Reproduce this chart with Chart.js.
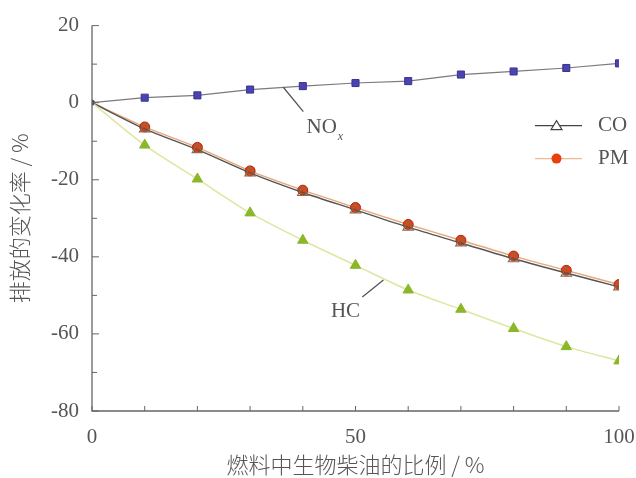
<!DOCTYPE html>
<html>
<head>
<meta charset="utf-8">
<script src="https://cdn.jsdelivr.net/npm/chart.js@4.4.1/dist/chart.umd.min.js"></script>
<style>
  html, body { margin: 0; padding: 0; background: #fff; }
  #wrap { width: 636px; height: 478px; }
</style>
</head>
<body>
<div id="wrap"><canvas id="chart" width="636" height="478"></canvas></div>
<script>
// share of bio-diesel in fuel, %
const blendRatio = [0, 10, 20, 30, 40, 50, 60, 70, 80, 90, 100];

// change of emissions, %
const noxChange = [0, 1.3, 1.9, 3.4, 4.3, 5.1, 5.6, 7.3, 8.1, 9.0, 10.2];
const coChange = [0, -6.8, -12.2, -18.2, -23.3, -27.8, -32.3, -36.4, -40.5, -44.2, -47.8];
const pmChange = [0, -6.3, -11.6, -17.7, -22.7, -27.2, -31.6, -35.7, -39.8, -43.5, -47.2];
const hcChange = [0, -11.0, -19.8, -28.6, -35.7, -42.2, -48.6, -53.6, -58.6, -63.3, -67.0];

const xTickLabels = [0, 50, 100];
const yTickLabels = [20, 0, -20, -40, -60, -80];

const serif = '"Liberation Serif", "DejaVu Serif", serif';
const cjk = '"Noto Sans CJK SC", sans-serif';
const textColor = '#555';

function toPoints(values) {
    return blendRatio.map((x, i) => ({ x: x, y: values[i] }));
}

function firstSmall(r) {
    return blendRatio.map((x, i) => i === 0 ? 2.5 : r);
}

// inward ticks, curve callouts and the small legend
const decorPlugin = {
    id: 'decor',
    afterDraw(chart) {
        const ctx = chart.ctx;
        const xs = chart.scales.x;
        const ys = chart.scales.y;
        const area = chart.chartArea;
        ctx.save();

        // axis lines
        ctx.strokeStyle = '#666';
        ctx.lineWidth = 1.3;
        ctx.beginPath();
        ctx.moveTo(area.left, area.top);
        ctx.lineTo(area.left, area.bottom);
        ctx.lineTo(area.right, area.bottom);
        ctx.stroke();

        // tick marks pointing into the plot
        ctx.lineWidth = 1;
        xs.ticks.forEach(t => {
            const px = xs.getPixelForValue(t.value);
            ctx.beginPath();
            ctx.moveTo(px, area.bottom);
            ctx.lineTo(px, area.bottom - 5);
            ctx.stroke();
        });
        ys.ticks.forEach(t => {
            const py = ys.getPixelForValue(t.value);
            const len = t.value % 20 === 0 ? 7 : 5;
            ctx.beginPath();
            ctx.moveTo(area.left, py);
            ctx.lineTo(area.left + len, py);
            ctx.stroke();
        });

        // callouts
        ctx.strokeStyle = '#555';
        ctx.lineWidth = 1.3;
        ctx.beginPath();
        ctx.moveTo(xs.getPixelForValue(36.3), ys.getPixelForValue(4.0));
        ctx.lineTo(xs.getPixelForValue(40.1), ys.getPixelForValue(-2.3));
        ctx.moveTo(xs.getPixelForValue(55.3), ys.getPixelForValue(-46.0));
        ctx.lineTo(xs.getPixelForValue(51.3), ys.getPixelForValue(-50.4));
        ctx.stroke();

        ctx.fillStyle = textColor;
        ctx.font = '21px ' + serif;
        ctx.textBaseline = 'middle';
        ctx.textAlign = 'left';
        const noX = xs.getPixelForValue(40.7);
        const noY = ys.getPixelForValue(-6.4);
        ctx.fillText('NO', noX, noY);
        const noW = ctx.measureText('NO').width;
        ctx.font = 'italic 12px ' + serif;
        ctx.fillText('x', noX + noW + 1, noY + 9);

        ctx.font = '21px ' + serif;
        ctx.textAlign = 'center';
        ctx.fillText('HC', xs.getPixelForValue(48.1), ys.getPixelForValue(-54.3));

        // legend
        const lx0 = area.right - 84;
        const lx1 = area.right - 37;
        const lmid = (lx0 + lx1) / 2 - 2;
        const rowCO = area.top + 100;
        const rowPM = area.top + 133;

        ctx.lineWidth = 1.2;
        ctx.strokeStyle = '#444';
        ctx.beginPath();
        ctx.moveTo(lx0, rowCO);
        ctx.lineTo(lx1, rowCO);
        ctx.stroke();
        ctx.fillStyle = '#fff';
        ctx.beginPath();
        ctx.moveTo(lmid, rowCO - 5);
        ctx.lineTo(lmid + 5.5, rowCO + 4);
        ctx.lineTo(lmid - 5.5, rowCO + 4);
        ctx.closePath();
        ctx.fill();
        ctx.stroke();

        ctx.strokeStyle = '#f0b890';
        ctx.beginPath();
        ctx.moveTo(lx0, rowPM);
        ctx.lineTo(lx1, rowPM);
        ctx.stroke();
        ctx.fillStyle = '#e8400c';
        ctx.beginPath();
        ctx.arc(lmid, rowPM, 5, 0, Math.PI * 2);
        ctx.fill();

        ctx.fillStyle = textColor;
        ctx.font = '21px ' + serif;
        ctx.textAlign = 'left';
        ctx.fillText('CO', area.right - 21, rowCO);
        ctx.fillText('PM', area.right - 21, rowPM);

        ctx.restore();
    }
};

new Chart(document.getElementById('chart'), {
    type: 'line',
    data: {
        datasets: [
            {
                label: 'NOx',
                data: toPoints(noxChange),
                borderColor: '#7a7a80',
                borderWidth: 1.2,
                pointStyle: 'rect',
                pointRadius: firstSmall(5),
                pointBackgroundColor: '#4a44b0',
                pointBorderColor: '#3a3490',
                pointBorderWidth: 1
            },
            {
                label: 'HC',
                data: toPoints(hcChange),
                borderColor: '#dfe6a0',
                borderWidth: 1.5,
                pointStyle: 'triangle',
                pointRadius: firstSmall(6),
                pointBackgroundColor: '#8ab82a',
                pointBorderColor: '#8ab82a',
                pointBorderWidth: 1,
                tension: 0.3
            },
            {
                label: 'CO',
                data: toPoints(coChange),
                borderColor: '#555',
                borderWidth: 1.4,
                pointStyle: 'triangle',
                pointRadius: firstSmall(6),
                pointBackgroundColor: 'rgba(255,255,255,0)',
                pointBorderColor: '#8a6a50',
                pointBorderWidth: 1.2,
                tension: 0.3
            },
            {
                label: 'PM',
                data: toPoints(pmChange),
                borderColor: '#e9a77a',
                borderWidth: 1.4,
                pointStyle: 'circle',
                pointRadius: firstSmall(5),
                pointBackgroundColor: '#e8400c',
                pointBorderColor: '#a82a10',
                pointBorderWidth: 1,
                tension: 0.3
            }
        ]
    },
    options: {
        responsive: false,
        animation: false,
        layout: { padding: { left: 0, right: 4, top: 25, bottom: 0 } },
        plugins: {
            legend: { display: false },
            tooltip: { enabled: false }
        },
        scales: {
            x: {
                type: 'linear',
                min: 0,
                max: 100,
                afterFit: s => {
                    s.height = 67;
                    s.paddingLeft = 0;
                    s.paddingRight = 17;
                },
                border: { display: false },
                grid: { display: false, drawTicks: false },
                ticks: {
                    stepSize: 10,
                    autoSkip: false,
                    maxRotation: 0,
                    padding: 14,
                    color: textColor,
                    font: { family: serif, size: 21 },
                    callback: v => xTickLabels.includes(v) ? String(v) : ''
                },
                title: {
                    display: true,
                    text: '燃料中生物柴油的比例 / %',
                    color: textColor,
                    font: { family: cjk, size: 22, weight: '300' },
                    padding: { top: 0, bottom: 0 }
                }
            },
            y: {
                min: -80,
                max: 20,
                afterFit: s => { s.width = 92; },
                border: { display: false },
                grid: { display: false, drawTicks: false },
                ticks: {
                    stepSize: 10,
                    autoSkip: false,
                    padding: 13,
                    color: textColor,
                    font: { family: serif, size: 21 },
                    callback: v => yTickLabels.includes(v) ? String(v) : ''
                },
                title: {
                    display: true,
                    text: '排放的变化率 / %',
                    color: textColor,
                    font: { family: cjk, size: 22, weight: '300' },
                    padding: { top: 6, bottom: 0 }
                }
            }
        }
    },
    plugins: [decorPlugin]
});
</script>
</body>
</html>
